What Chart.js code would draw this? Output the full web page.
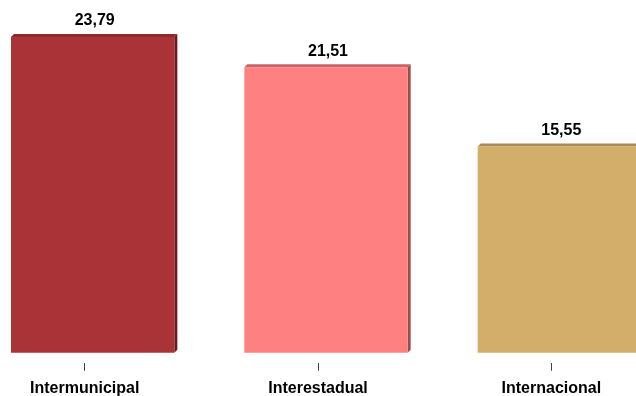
<!DOCTYPE html>
<html>
<head>
<meta charset="utf-8">
<script src="https://cdn.jsdelivr.net/npm/chart.js@4"></script>
<style>
  body { margin: 0; overflow: hidden; background: #fff; }
  #wrap { position: absolute; left: -32px; top: 0; width: 700px; height: 406px; }
</style>
</head>
<body>
<div id="wrap"><canvas id="my-chart" width="700" height="406"></canvas></div>
<script>
const categories = ['Intermunicipal', 'Interestadual', 'Internacional'];
const values = [23.79, 21.51, 15.55];

const faceColors = ['#A93336', '#FF8080', '#D2AE6A'];
const topColors = ['#8C2A2C', '#C86464', '#A88A55'];
const sideColors = ['#6A1A1C', '#9C4C4C', '#86703F'];

const depth = 3;
const barShift = 8; // bars sit a little right of their tick in the original

const bar3d = {
  id: 'bar3d',
  beforeDatasetsDraw(chart) {
    const ctx = chart.ctx;
    const meta = chart.getDatasetMeta(0);
    ctx.save();
    ctx.translate(barShift, 0);
    meta.data.forEach((bar, i) => {
      const x0 = bar.x - bar.width / 2;
      const x1 = bar.x + bar.width / 2;
      const yt = bar.y;
      const yb = bar.base;
      ctx.fillStyle = topColors[i];
      ctx.beginPath();
      ctx.moveTo(x0, yt);
      ctx.lineTo(x0 + depth, yt - depth);
      ctx.lineTo(x1 + depth, yt - depth);
      ctx.lineTo(x1, yt);
      ctx.closePath();
      ctx.fill();
      ctx.fillStyle = sideColors[i];
      ctx.beginPath();
      ctx.moveTo(x1, yt);
      ctx.lineTo(x1 + depth, yt - depth);
      ctx.lineTo(x1 + depth, yb - depth);
      ctx.lineTo(x1, yb);
      ctx.closePath();
      ctx.fill();
    });
  },
  afterDatasetsDraw(chart) {
    const ctx = chart.ctx;
    const meta = chart.getDatasetMeta(0);
    ctx.font = 'bold 16px "Liberation Sans", Arial, sans-serif';
    ctx.fillStyle = '#000';
    ctx.textAlign = 'center';
    ctx.textBaseline = 'middle';
    meta.data.forEach((bar, i) => {
      const txt = values[i].toFixed(2).replace('.', ',');
      ctx.fillText(txt, bar.x + 2, bar.y - 16);
    });
    ctx.restore();
  }
};

const ctx = document.getElementById('my-chart').getContext('2d');
const chart = new Chart(ctx, {
  type: 'bar',
  data: {
    labels: categories,
    datasets: [{
      data: values,
      backgroundColor: faceColors,
      borderWidth: 0,
      barPercentage: 0.70,
      categoryPercentage: 1.0
    }]
  },
  options: {
    responsive: false,
    animation: false,
    layout: { padding: { top: 1, left: 0, right: 0, bottom: 0 } },
    plugins: { legend: { display: false }, tooltip: { enabled: false } },
    scales: {
      x: {
        grid: { offset: false, drawOnChartArea: false, drawTicks: true, tickLength: 8, color: '#444' },
        border: { display: false },
        ticks: {
          color: '#000',
          padding: 8,
          font: { family: '"Liberation Sans", Arial, sans-serif', size: 16, weight: 'bold' }
        }
      },
      y: {
        display: false,
        min: -0.75,
        max: 26.5
      }
    }
  },
  plugins: [bar3d]
});
</script>
</body>
</html>
